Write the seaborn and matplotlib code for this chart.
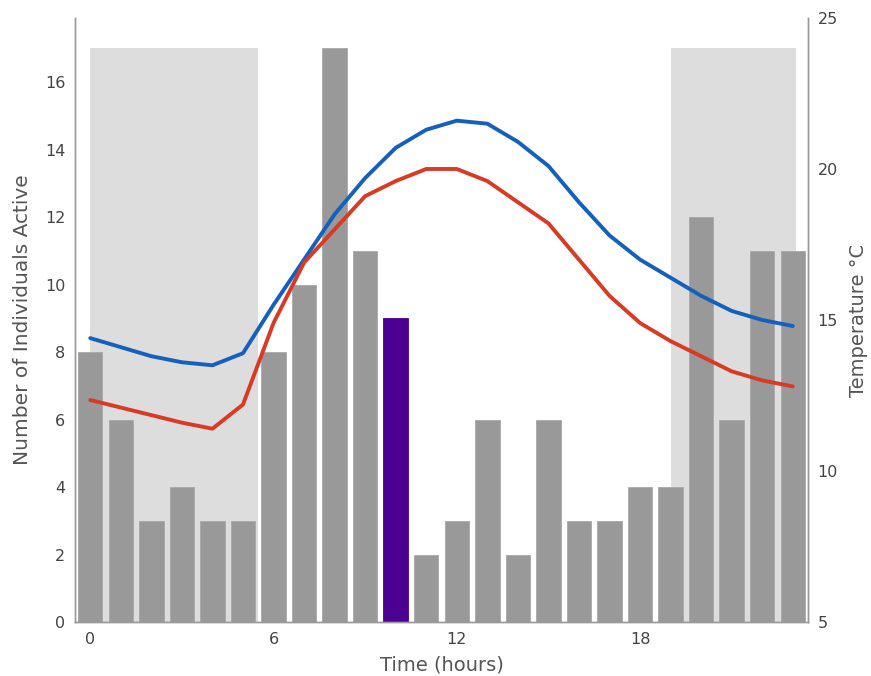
import numpy as np
import pandas as pd
import matplotlib
matplotlib.use("Agg")
import matplotlib.pyplot as plt
import seaborn as sns

# --- data ---
hours = list(range(24))
active_counts = [8, 6, 3, 4, 3, 3, 8, 10, 17, 11, 9, 2, 3, 6, 2, 6, 3, 3, 4, 4, 12, 6, 11, 11]
highlight_hour = 10
temp_blue = [14.4, 14.1, 13.8, 13.6, 13.5, 13.9, 15.5, 17.0, 18.5, 19.7, 20.7, 21.3,
             21.6, 21.5, 20.9, 20.1, 18.9, 17.8, 17.0, 16.4, 15.8, 15.3, 15.0, 14.8]
temp_red = [12.35, 12.1, 11.85, 11.6, 11.4, 12.2, 14.9, 16.9, 18.0, 19.1, 19.6, 20.0,
            20.0, 19.6, 18.9, 18.2, 17.0, 15.8, 14.9, 14.3, 13.8, 13.3, 13.0, 12.8]
night_spans = [(0, 5.5), (19, 23.1)]

df = pd.DataFrame({"hour": hours, "count": active_counts,
                   "blue": temp_blue, "red": temp_red})

sns.set_theme(style="white")
plt.rcParams["font.family"] = ["DejaVu Sans"]

fig = plt.figure(figsize=(8.71, 6.76), dpi=100)
ax = fig.add_axes([0.0861, 0.0799, 0.8416, 0.8935])

# night shading
for x0, x1 in night_spans:
    ax.fill_between([x0, x1], 0, 17, color="#dddddd", zorder=0, linewidth=0)

sns.barplot(data=df, x="hour", y="count", native_scale=True, width=0.8,
            color="#999999", saturation=1, ax=ax, zorder=2)
for patch, h in zip(ax.patches[-len(hours):], hours):
    patch.set_edgecolor("#a8a8a8")
    patch.set_linewidth(0.6)
    if h == highlight_hour:
        patch.set_facecolor("#4b0092")
        patch.set_edgecolor("#4b0092")

ax.set_xlim(-0.5, 23.5)
ax.set_ylim(0, 17.9)
ax.set_xticks([0, 6, 12, 18])
ax.set_yticks(range(0, 17, 2))
ax.set_xlabel("Time (hours)", fontsize=14, color="#555555", labelpad=6)
ax.set_ylabel("Number of Individuals Active", fontsize=14.5, color="#555555", labelpad=9)
ax.tick_params(length=0, labelsize=11.5, labelcolor="#444444", pad=7)

ax2 = ax.twinx()
sns.lineplot(data=df, x="hour", y="blue", color="#1560bd", linewidth=2.8, ax=ax2)
sns.lineplot(data=df, x="hour", y="red", color="#d93a26", linewidth=2.8, ax=ax2)
ax2.set_ylim(5, 25)
ax2.set_yticks([5, 10, 15, 20, 25])
ax2.set_ylabel("Temperature °C", fontsize=14, color="#555555", labelpad=8)
ax2.tick_params(length=0, labelsize=11.5, labelcolor="#444444", pad=7)

for a in (ax, ax2):
    a.spines["top"].set_visible(False)
    for s in ("left", "right", "bottom"):
        a.spines[s].set_color("#999999")
        a.spines[s].set_linewidth(1)

fig.savefig("out.png", dpi=100)
